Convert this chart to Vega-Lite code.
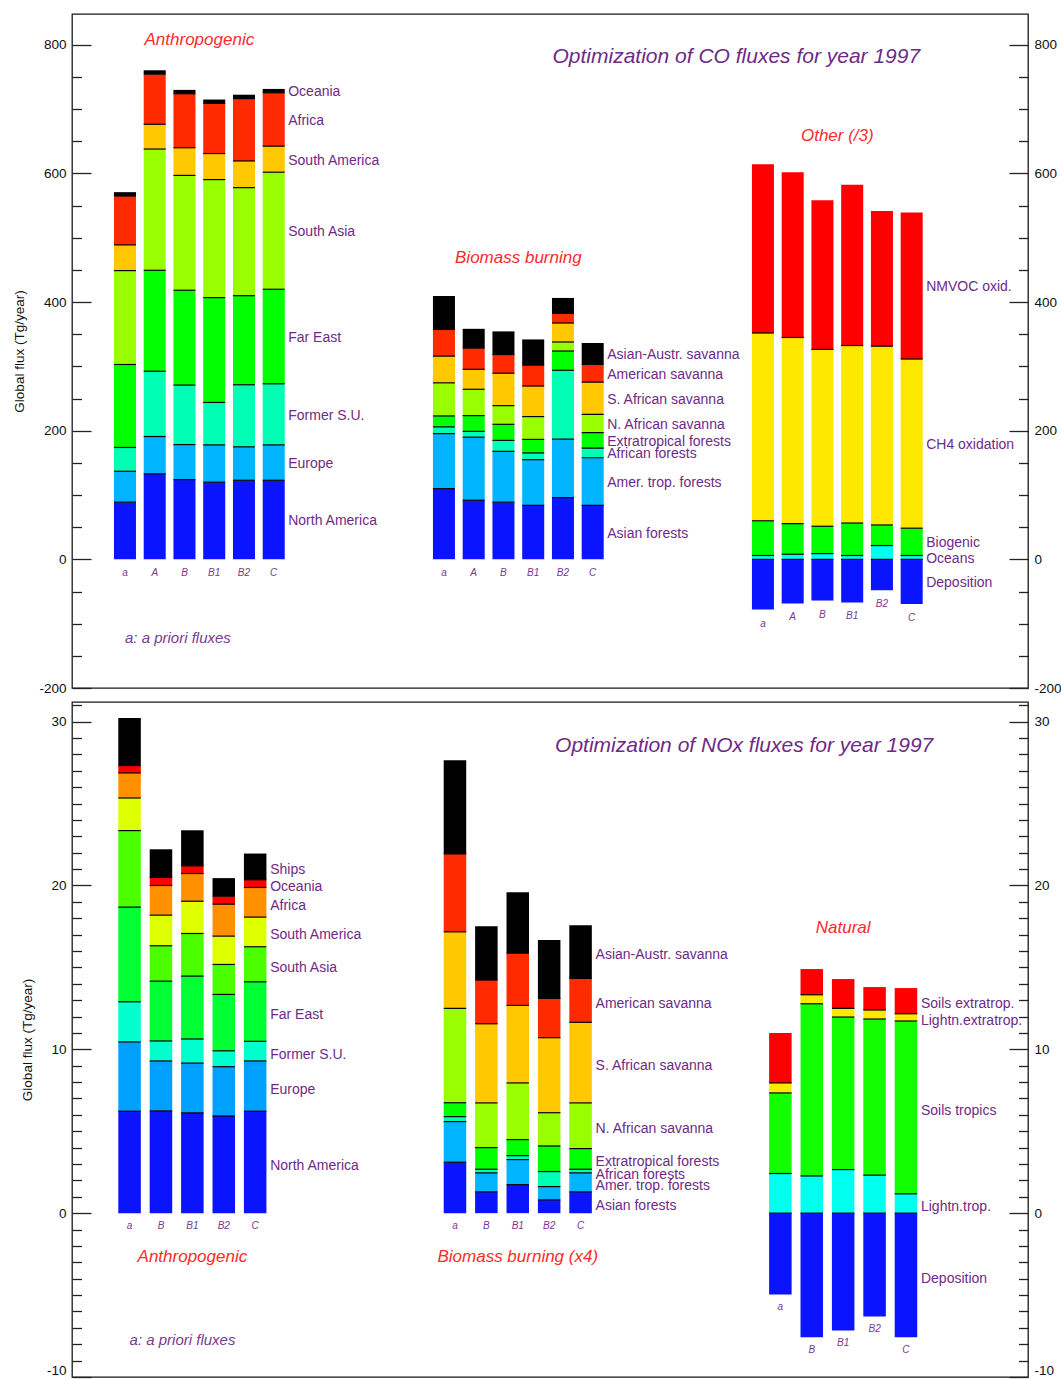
{
"$schema": "https://vega.github.io/schema/vega-lite/v6.json",
"background": "white",
"padding": {"left": 12, "top": 13, "right": 0, "bottom": 0},
"bounds": "flush",
"spacing": 14,
"resolve": {"scale": {"color": "independent", "x": "independent", "xOffset": "independent", "y": "independent"}},
"config": {
  "view": {"stroke": "#1a1a1a", "strokeWidth": 1.3},
  "font": "Liberation Sans",
  "axis": {"grid": false, "domain": false, "labelFont": "Liberation Sans", "labelFontSize": 13.5, "labelColor": "#111", "tickColor": "#222", "tickWidth": 1.3, "titleFont": "Liberation Sans", "titleFontSize": 13.5, "titleFontWeight": "normal", "titleColor": "#111", "labelOverlap": false}
},
"datasets": {
"co": [
{"g":"Anthropogenic","r":"a","s":"North America","v":89},{"g":"Anthropogenic","r":"a","s":"Europe","v":48},{"g":"Anthropogenic","r":"a","s":"Former S.U.","v":37},{"g":"Anthropogenic","r":"a","s":"Far East","v":129},{"g":"Anthropogenic","r":"a","s":"South Asia","v":146},{"g":"Anthropogenic","r":"a","s":"South America","v":40},{"g":"Anthropogenic","r":"a","s":"Africa","v":76},{"g":"Anthropogenic","r":"a","s":"Oceania","v":6},
{"g":"Anthropogenic","r":"A","s":"North America","v":133},{"g":"Anthropogenic","r":"A","s":"Europe","v":58},{"g":"Anthropogenic","r":"A","s":"Former S.U.","v":101.5},{"g":"Anthropogenic","r":"A","s":"Far East","v":157},{"g":"Anthropogenic","r":"A","s":"South Asia","v":188.5},{"g":"Anthropogenic","r":"A","s":"South America","v":38.5},{"g":"Anthropogenic","r":"A","s":"Africa","v":78},{"g":"Anthropogenic","r":"A","s":"Oceania","v":6},
{"g":"Anthropogenic","r":"B","s":"North America","v":124},{"g":"Anthropogenic","r":"B","s":"Europe","v":54.5},{"g":"Anthropogenic","r":"B","s":"Former S.U.","v":92.5},{"g":"Anthropogenic","r":"B","s":"Far East","v":147.5},{"g":"Anthropogenic","r":"B","s":"South Asia","v":178.5},{"g":"Anthropogenic","r":"B","s":"South America","v":43},{"g":"Anthropogenic","r":"B","s":"Africa","v":84},{"g":"Anthropogenic","r":"B","s":"Oceania","v":6},
{"g":"Anthropogenic","r":"B1","s":"North America","v":120},{"g":"Anthropogenic","r":"B1","s":"Europe","v":58},{"g":"Anthropogenic","r":"B1","s":"Former S.U.","v":66},{"g":"Anthropogenic","r":"B1","s":"Far East","v":163},{"g":"Anthropogenic","r":"B1","s":"South Asia","v":183.5},{"g":"Anthropogenic","r":"B1","s":"South America","v":40.5},{"g":"Anthropogenic","r":"B1","s":"Africa","v":78},{"g":"Anthropogenic","r":"B1","s":"Oceania","v":6},
{"g":"Anthropogenic","r":"B2","s":"North America","v":123},{"g":"Anthropogenic","r":"B2","s":"Europe","v":52},{"g":"Anthropogenic","r":"B2","s":"Former S.U.","v":96.5},{"g":"Anthropogenic","r":"B2","s":"Far East","v":138.5},{"g":"Anthropogenic","r":"B2","s":"South Asia","v":168},{"g":"Anthropogenic","r":"B2","s":"South America","v":41.5},{"g":"Anthropogenic","r":"B2","s":"Africa","v":97},{"g":"Anthropogenic","r":"B2","s":"Oceania","v":6},
{"g":"Anthropogenic","r":"C","s":"North America","v":123},{"g":"Anthropogenic","r":"C","s":"Europe","v":55},{"g":"Anthropogenic","r":"C","s":"Former S.U.","v":95},{"g":"Anthropogenic","r":"C","s":"Far East","v":147},{"g":"Anthropogenic","r":"C","s":"South Asia","v":182},{"g":"Anthropogenic","r":"C","s":"South America","v":40.5},{"g":"Anthropogenic","r":"C","s":"Africa","v":83},{"g":"Anthropogenic","r":"C","s":"Oceania","v":6},
{"g":"Biomass burning","r":"a","s":"Asian forests","v":110},{"g":"Biomass burning","r":"a","s":"Amer. trop. forests","v":85.5},{"g":"Biomass burning","r":"a","s":"African forests","v":10.5},{"g":"Biomass burning","r":"a","s":"Extratropical forests","v":17},{"g":"Biomass burning","r":"a","s":"N. African savanna","v":51.5},{"g":"Biomass burning","r":"a","s":"S. African savanna","v":41.5},{"g":"Biomass burning","r":"a","s":"American savanna","v":41.5},{"g":"Biomass burning","r":"a","s":"Asian-Austr. savanna","v":52},
{"g":"Biomass burning","r":"A","s":"Asian forests","v":92},{"g":"Biomass burning","r":"A","s":"Amer. trop. forests","v":98},{"g":"Biomass burning","r":"A","s":"African forests","v":9},{"g":"Biomass burning","r":"A","s":"Extratropical forests","v":24.5},{"g":"Biomass burning","r":"A","s":"N. African savanna","v":41},{"g":"Biomass burning","r":"A","s":"S. African savanna","v":31},{"g":"Biomass burning","r":"A","s":"American savanna","v":33},{"g":"Biomass burning","r":"A","s":"Asian-Austr. savanna","v":30},
{"g":"Biomass burning","r":"B","s":"Asian forests","v":89},{"g":"Biomass burning","r":"B","s":"Amer. trop. forests","v":79},{"g":"Biomass burning","r":"B","s":"African forests","v":17},{"g":"Biomass burning","r":"B","s":"Extratropical forests","v":25},{"g":"Biomass burning","r":"B","s":"N. African savanna","v":29},{"g":"Biomass burning","r":"B","s":"S. African savanna","v":50.5},{"g":"Biomass burning","r":"B","s":"American savanna","v":29},{"g":"Biomass burning","r":"B","s":"Asian-Austr. savanna","v":36},
{"g":"Biomass burning","r":"B1","s":"Asian forests","v":84},{"g":"Biomass burning","r":"B1","s":"Amer. trop. forests","v":71},{"g":"Biomass burning","r":"B1","s":"African forests","v":10.5},{"g":"Biomass burning","r":"B1","s":"Extratropical forests","v":21},{"g":"Biomass burning","r":"B1","s":"N. African savanna","v":35.5},{"g":"Biomass burning","r":"B1","s":"S. African savanna","v":47.5},{"g":"Biomass burning","r":"B1","s":"American savanna","v":32.5},{"g":"Biomass burning","r":"B1","s":"Asian-Austr. savanna","v":40},
{"g":"Biomass burning","r":"B2","s":"Asian forests","v":96},{"g":"Biomass burning","r":"B2","s":"Amer. trop. forests","v":91},{"g":"Biomass burning","r":"B2","s":"African forests","v":107},{"g":"Biomass burning","r":"B2","s":"Extratropical forests","v":30},{"g":"Biomass burning","r":"B2","s":"N. African savanna","v":14},{"g":"Biomass burning","r":"B2","s":"S. African savanna","v":29.5},{"g":"Biomass burning","r":"B2","s":"American savanna","v":15},{"g":"Biomass burning","r":"B2","s":"Asian-Austr. savanna","v":24},
{"g":"Biomass burning","r":"C","s":"Asian forests","v":84},{"g":"Biomass burning","r":"C","s":"Amer. trop. forests","v":74},{"g":"Biomass burning","r":"C","s":"African forests","v":15},{"g":"Biomass burning","r":"C","s":"Extratropical forests","v":24},{"g":"Biomass burning","r":"C","s":"N. African savanna","v":28.5},{"g":"Biomass burning","r":"C","s":"S. African savanna","v":50},{"g":"Biomass burning","r":"C","s":"American savanna","v":27.5},{"g":"Biomass burning","r":"C","s":"Asian-Austr. savanna","v":33.5},
{"g":"Other","r":"a","s":"Oceans","v":6},{"g":"Other","r":"a","s":"Biogenic","v":54},{"g":"Other","r":"a","s":"CH4 oxidation","v":292},{"g":"Other","r":"a","s":"NMVOC oxid.","v":262.5},{"g":"Other","r":"a","s":"Deposition","v":-78},
{"g":"Other","r":"A","s":"Oceans","v":8},{"g":"Other","r":"A","s":"Biogenic","v":47.5},{"g":"Other","r":"A","s":"CH4 oxidation","v":289.5},{"g":"Other","r":"A","s":"NMVOC oxid.","v":257},{"g":"Other","r":"A","s":"Deposition","v":-68.5},
{"g":"Other","r":"B","s":"Oceans","v":9},{"g":"Other","r":"B","s":"Biogenic","v":42.5},{"g":"Other","r":"B","s":"CH4 oxidation","v":275},{"g":"Other","r":"B","s":"NMVOC oxid.","v":232},{"g":"Other","r":"B","s":"Deposition","v":-64},
{"g":"Other","r":"B1","s":"Oceans","v":6},{"g":"Other","r":"B1","s":"Biogenic","v":50.5},{"g":"Other","r":"B1","s":"CH4 oxidation","v":276},{"g":"Other","r":"B1","s":"NMVOC oxid.","v":250},{"g":"Other","r":"B1","s":"Deposition","v":-67},
{"g":"Other","r":"B2","s":"Oceans","v":21.5},{"g":"Other","r":"B2","s":"Biogenic","v":32},{"g":"Other","r":"B2","s":"CH4 oxidation","v":278},{"g":"Other","r":"B2","s":"NMVOC oxid.","v":210},{"g":"Other","r":"B2","s":"Deposition","v":-48},
{"g":"Other","r":"C","s":"Oceans","v":6},{"g":"Other","r":"C","s":"Biogenic","v":42.5},{"g":"Other","r":"C","s":"CH4 oxidation","v":263},{"g":"Other","r":"C","s":"NMVOC oxid.","v":228},{"g":"Other","r":"C","s":"Deposition","v":-69.5}
],
"nox": [
{"g":"Anthropogenic","r":"a","s":"North America","v":6.22},{"g":"Anthropogenic","r":"a","s":"Europe","v":4.23},{"g":"Anthropogenic","r":"a","s":"Former S.U.","v":2.45},{"g":"Anthropogenic","r":"a","s":"Far East","v":5.78},{"g":"Anthropogenic","r":"a","s":"South Asia","v":4.67},{"g":"Anthropogenic","r":"a","s":"South America","v":1.99},{"g":"Anthropogenic","r":"a","s":"Africa","v":1.53},{"g":"Anthropogenic","r":"a","s":"Oceania","v":0.45},{"g":"Anthropogenic","r":"a","s":"Ships","v":2.91},
{"g":"Anthropogenic","r":"B","s":"North America","v":6.24},{"g":"Anthropogenic","r":"B","s":"Europe","v":3.05},{"g":"Anthropogenic","r":"B","s":"Former S.U.","v":1.22},{"g":"Anthropogenic","r":"B","s":"Far East","v":3.65},{"g":"Anthropogenic","r":"B","s":"South Asia","v":2.16},{"g":"Anthropogenic","r":"B","s":"South America","v":1.87},{"g":"Anthropogenic","r":"B","s":"Africa","v":1.81},{"g":"Anthropogenic","r":"B","s":"Oceania","v":0.49},{"g":"Anthropogenic","r":"B","s":"Ships","v":1.72},
{"g":"Anthropogenic","r":"B1","s":"North America","v":6.12},{"g":"Anthropogenic","r":"B1","s":"Europe","v":3.04},{"g":"Anthropogenic","r":"B1","s":"Former S.U.","v":1.47},{"g":"Anthropogenic","r":"B1","s":"Far East","v":3.84},{"g":"Anthropogenic","r":"B1","s":"South Asia","v":2.6},{"g":"Anthropogenic","r":"B1","s":"South America","v":1.97},{"g":"Anthropogenic","r":"B1","s":"Africa","v":1.69},{"g":"Anthropogenic","r":"B1","s":"Oceania","v":0.47},{"g":"Anthropogenic","r":"B1","s":"Ships","v":2.17},
{"g":"Anthropogenic","r":"B2","s":"North America","v":5.93},{"g":"Anthropogenic","r":"B2","s":"Europe","v":3.01},{"g":"Anthropogenic","r":"B2","s":"Former S.U.","v":0.97},{"g":"Anthropogenic","r":"B2","s":"Far East","v":3.44},{"g":"Anthropogenic","r":"B2","s":"South Asia","v":1.83},{"g":"Anthropogenic","r":"B2","s":"South America","v":1.73},{"g":"Anthropogenic","r":"B2","s":"Africa","v":1.95},{"g":"Anthropogenic","r":"B2","s":"Oceania","v":0.49},{"g":"Anthropogenic","r":"B2","s":"Ships","v":1.1},
{"g":"Anthropogenic","r":"C","s":"North America","v":6.22},{"g":"Anthropogenic","r":"C","s":"Europe","v":3.07},{"g":"Anthropogenic","r":"C","s":"Former S.U.","v":1.2},{"g":"Anthropogenic","r":"C","s":"Far East","v":3.63},{"g":"Anthropogenic","r":"C","s":"South Asia","v":2.14},{"g":"Anthropogenic","r":"C","s":"South America","v":1.81},{"g":"Anthropogenic","r":"C","s":"Africa","v":1.81},{"g":"Anthropogenic","r":"C","s":"Oceania","v":0.47},{"g":"Anthropogenic","r":"C","s":"Ships","v":1.6},
{"g":"Biomass burning","r":"a","s":"Asian forests","v":3.11},{"g":"Biomass burning","r":"a","s":"Amer. trop. forests","v":2.48},{"g":"Biomass burning","r":"a","s":"African forests","v":0.3},{"g":"Biomass burning","r":"a","s":"Extratropical forests","v":0.85},{"g":"Biomass burning","r":"a","s":"N. African savanna","v":5.76},{"g":"Biomass burning","r":"a","s":"S. African savanna","v":4.67},{"g":"Biomass burning","r":"a","s":"American savanna","v":4.76},{"g":"Biomass burning","r":"a","s":"Asian-Austr. savanna","v":5.71},
{"g":"Biomass burning","r":"B","s":"Asian forests","v":1.3},{"g":"Biomass burning","r":"B","s":"Amer. trop. forests","v":1.16},{"g":"Biomass burning","r":"B","s":"African forests","v":0.22},{"g":"Biomass burning","r":"B","s":"Extratropical forests","v":1.32},{"g":"Biomass burning","r":"B","s":"N. African savanna","v":2.73},{"g":"Biomass burning","r":"B","s":"S. African savanna","v":4.83},{"g":"Biomass burning","r":"B","s":"American savanna","v":2.67},{"g":"Biomass burning","r":"B","s":"Asian-Austr. savanna","v":3.29},
{"g":"Biomass burning","r":"B1","s":"Asian forests","v":1.74},{"g":"Biomass burning","r":"B1","s":"Amer. trop. forests","v":1.53},{"g":"Biomass burning","r":"B1","s":"African forests","v":0.24},{"g":"Biomass burning","r":"B1","s":"Extratropical forests","v":0.98},{"g":"Biomass burning","r":"B1","s":"N. African savanna","v":3.46},{"g":"Biomass burning","r":"B1","s":"S. African savanna","v":4.73},{"g":"Biomass burning","r":"B1","s":"American savanna","v":3.19},{"g":"Biomass burning","r":"B1","s":"Asian-Austr. savanna","v":3.72},
{"g":"Biomass burning","r":"B2","s":"Asian forests","v":0.81},{"g":"Biomass burning","r":"B2","s":"Amer. trop. forests","v":0.81},{"g":"Biomass burning","r":"B2","s":"African forests","v":0.92},{"g":"Biomass burning","r":"B2","s":"Extratropical forests","v":1.56},{"g":"Biomass burning","r":"B2","s":"N. African savanna","v":2.03},{"g":"Biomass burning","r":"B2","s":"S. African savanna","v":4.58},{"g":"Biomass burning","r":"B2","s":"American savanna","v":2.4},{"g":"Biomass burning","r":"B2","s":"Asian-Austr. savanna","v":3.56},
{"g":"Biomass burning","r":"C","s":"Asian forests","v":1.3},{"g":"Biomass burning","r":"C","s":"Amer. trop. forests","v":1.16},{"g":"Biomass burning","r":"C","s":"African forests","v":0.22},{"g":"Biomass burning","r":"C","s":"Extratropical forests","v":1.26},{"g":"Biomass burning","r":"C","s":"N. African savanna","v":2.79},{"g":"Biomass burning","r":"C","s":"S. African savanna","v":4.92},{"g":"Biomass burning","r":"C","s":"American savanna","v":2.68},{"g":"Biomass burning","r":"C","s":"Asian-Austr. savanna","v":3.25},
{"g":"Natural","r":"a","s":"Lightn.trop.","v":2.42},{"g":"Natural","r":"a","s":"Soils tropics","v":4.92},{"g":"Natural","r":"a","s":"Lightn.extratrop.","v":0.61},{"g":"Natural","r":"a","s":"Soils extratrop.","v":3.04},{"g":"Natural","r":"a","s":"Deposition","v":-4.96},
{"g":"Natural","r":"B","s":"Lightn.trop.","v":2.27},{"g":"Natural","r":"B","s":"Soils tropics","v":10.51},{"g":"Natural","r":"B","s":"Lightn.extratrop.","v":0.55},{"g":"Natural","r":"B","s":"Soils extratrop.","v":1.57},{"g":"Natural","r":"B","s":"Deposition","v":-7.58},
{"g":"Natural","r":"B1","s":"Lightn.trop.","v":2.66},{"g":"Natural","r":"B1","s":"Soils tropics","v":9.31},{"g":"Natural","r":"B1","s":"Lightn.extratrop.","v":0.53},{"g":"Natural","r":"B1","s":"Soils extratrop.","v":1.79},{"g":"Natural","r":"B1","s":"Deposition","v":-7.16},
{"g":"Natural","r":"B2","s":"Lightn.trop.","v":2.32},{"g":"Natural","r":"B2","s":"Soils tropics","v":9.53},{"g":"Natural","r":"B2","s":"Lightn.extratrop.","v":0.55},{"g":"Natural","r":"B2","s":"Soils extratrop.","v":1.4},{"g":"Natural","r":"B2","s":"Deposition","v":-6.3},
{"g":"Natural","r":"C","s":"Lightn.trop.","v":1.18},{"g":"Natural","r":"C","s":"Soils tropics","v":10.55},{"g":"Natural","r":"C","s":"Lightn.extratrop.","v":0.44},{"g":"Natural","r":"C","s":"Soils extratrop.","v":1.57},{"g":"Natural","r":"C","s":"Deposition","v":-7.58}
]
},
"vconcat": [
{
  "width": 956, "height": 674,
  "resolve": {"axis": {"y": "independent"}},
  "layer": [
    {
      "data": {"name": "co"},
      "transform": [
        {"calculate": "indexof(['North America','Europe','Former S.U.','Far East','South Asia','South America','Africa','Oceania','Asian forests','Amer. trop. forests','African forests','Extratropical forests','N. African savanna','S. African savanna','American savanna','Asian-Austr. savanna','Deposition','Oceans','Biogenic','CH4 oxidation','NMVOC oxid.'], datum.s)", "as": "k"},
        {"stack": "v", "groupby": ["g", "r"], "sort": [{"field": "k", "order": "ascending"}], "as": ["y0", "y1"]},
        {"joinaggregate": [{"op": "max", "field": "y1", "as": "top"}], "groupby": ["g", "r"]}
      ],
      "resolve": {"axis": {"y": "independent"}},
      "layer": [
        {
          "mark": {"type": "bar"},
          "encoding": {
            "x": {"field": "g", "type": "nominal", "scale": {"domain": ["Anthropogenic", "Biomass burning", "Other"], "paddingInner": 0.4404, "paddingOuter": 0.2187, "align": 0.273}, "axis": null},
            "xOffset": {"field": "r", "type": "nominal", "scale": {"domain": ["a", "A", "B", "B1", "B2", "C"], "paddingInner": 0.26, "paddingOuter": 0.13}},
            "y": {"field": "y0", "type": "quantitative", "scale": {"domain": [-200, 848], "nice": false, "zero": false},
                  "axis": {"orient": "left", "title": "Global flux (Tg/year)", "titlePadding": 12, "values": [-200,-150,-100,-50,0,50,100,150,200,250,300,350,400,450,500,550,600,650,700,750,800], "labelExpr": "datum.value % 200 === 0 ? '' + datum.value : ''", "tickSize": {"condition": {"test": "datum.value % 200 === 0", "value": -19}, "value": -9.5}, "labelPadding": 25}},
            "y2": {"field": "y1"},
            "color": {"field": "s", "type": "nominal", "legend": null, "scale": {
              "domain": ["North America","Europe","Former S.U.","Far East","South Asia","South America","Africa","Oceania","Asian forests","Amer. trop. forests","African forests","Extratropical forests","N. African savanna","S. African savanna","American savanna","Asian-Austr. savanna","Deposition","Oceans","Biogenic","CH4 oxidation","NMVOC oxid."],
              "range": ["#0A14FF","#00B4FF","#00FFB4","#00FF00","#99FF00","#FFC800","#FF2A00","#000000","#0A14FF","#00B4FF","#00FFB4","#00FF00","#99FF00","#FFC800","#FF2A00","#000000","#0A14FF","#00FFEE","#00FF00","#FFE800","#FF0000"]}}
          }
        },
        {
          "transform": [{"filter": "datum.y1 < datum.top"}, {"calculate": "datum.v < 0 ? datum.y0 : datum.y1", "as": "ly"}],
          "mark": {"type": "tick", "orient": "horizontal", "size": 22, "thickness": 1.2, "color": "#000000", "opacity": 1},
          "encoding": {
            "x": {"field": "g", "type": "nominal", "scale": {"domain": ["Anthropogenic", "Biomass burning", "Other"], "paddingInner": 0.4404, "paddingOuter": 0.2187, "align": 0.273}, "axis": null},
            "xOffset": {"field": "r", "type": "nominal", "scale": {"domain": ["a", "A", "B", "B1", "B2", "C"], "paddingInner": 0.26, "paddingOuter": 0.13}},
            "y": {"field": "ly", "type": "quantitative", "scale": {"domain": [-200, 848], "nice": false, "zero": false}, "axis": null}
          }
        },
        {
          "transform": [{"filter": "datum.r === 'C'"}, {"calculate": "(datum.y0 + datum.y1) / 2", "as": "mid"}],
          "mark": {"type": "text", "align": "left", "baseline": "middle", "dx": 14.5, "dy": 1.5, "fontSize": 14, "color": "#6E2A86"},
          "encoding": {
            "x": {"field": "g", "type": "nominal", "scale": {"domain": ["Anthropogenic", "Biomass burning", "Other"], "paddingInner": 0.4404, "paddingOuter": 0.2187, "align": 0.273}, "axis": null},
            "xOffset": {"field": "r", "type": "nominal", "scale": {"domain": ["a", "A", "B", "B1", "B2", "C"], "paddingInner": 0.26, "paddingOuter": 0.13}},
            "y": {"field": "mid", "type": "quantitative", "scale": {"domain": [-200, 848], "nice": false, "zero": false},
                  "axis": {"orient": "right", "title": null, "values": [-200,-150,-100,-50,0,50,100,150,200,250,300,350,400,450,500,550,600,650,700,750,800], "labelExpr": "datum.value % 200 === 0 ? '' + datum.value : ''", "tickSize": {"condition": {"test": "datum.value % 200 === 0", "value": -19}, "value": -9.5}, "labelPadding": 25}},
            "text": {"field": "s"}
          }
        },
        {
          "transform": [{"calculate": "min(0, datum.v)", "as": "neg"}, {"aggregate": [{"op": "sum", "field": "neg", "as": "base"}], "groupby": ["g", "r"]}],
          "mark": {"type": "text", "align": "center", "baseline": "middle", "dy": 14, "fontSize": 10, "fontStyle": "italic", "color": "#7A3A90"},
          "encoding": {
            "x": {"field": "g", "type": "nominal", "scale": {"domain": ["Anthropogenic", "Biomass burning", "Other"], "paddingInner": 0.4404, "paddingOuter": 0.2187, "align": 0.273}, "axis": null},
            "xOffset": {"field": "r", "type": "nominal", "scale": {"domain": ["a", "A", "B", "B1", "B2", "C"], "paddingInner": 0.26, "paddingOuter": 0.13}},
            "y": {"field": "base", "type": "quantitative", "scale": {"domain": [-200, 848], "nice": false, "zero": false}, "axis": null},
            "text": {"field": "r"}
          }
        }
      ]
    },
    {
      "data": {"values": [{"t": "Anthropogenic", "g": "Anthropogenic", "y": 807}, {"t": "Biomass burning", "g": "Biomass burning", "y": 468}, {"t": "Other (/3)", "g": "Other", "y": 658}]},
      "mark": {"type": "text", "align": "center", "baseline": "middle", "fontSize": 17, "fontStyle": "italic", "color": "#FF2A2A"},
      "encoding": {
        "x": {"field": "g", "type": "nominal", "scale": {"domain": ["Anthropogenic", "Biomass burning", "Other"], "paddingInner": 0.4404, "paddingOuter": 0.2187, "align": 0.273}, "axis": null},
        "y": {"field": "y", "type": "quantitative", "scale": {"domain": [-200, 848], "nice": false, "zero": false}, "axis": null},
        "text": {"field": "t"}
      }
    },
    {
      "data": {"values": [{"t": "Optimization of CO fluxes for year 1997", "g": "Other", "y": 781}]},
      "mark": {"type": "text", "align": "center", "baseline": "middle", "dx": -101, "fontSize": 21, "fontStyle": "italic", "color": "#6E2A86"},
      "encoding": {
        "x": {"field": "g", "type": "nominal", "scale": {"domain": ["Anthropogenic", "Biomass burning", "Other"], "paddingInner": 0.4404, "paddingOuter": 0.2187, "align": 0.273}, "axis": null},
        "y": {"field": "y", "type": "quantitative", "scale": {"domain": [-200, 848], "nice": false, "zero": false}, "axis": null},
        "text": {"field": "t"}
      }
    },
    {
      "data": {"values": [{"t": "a: a priori fluxes", "g": "Anthropogenic", "r": "a", "y": -123}]},
      "mark": {"type": "text", "align": "left", "baseline": "middle", "fontSize": 15, "fontStyle": "italic", "color": "#7A3A90"},
      "encoding": {
        "x": {"field": "g", "type": "nominal", "scale": {"domain": ["Anthropogenic", "Biomass burning", "Other"], "paddingInner": 0.4404, "paddingOuter": 0.2187, "align": 0.273}, "axis": null},
        "xOffset": {"field": "r", "type": "nominal", "scale": {"domain": ["a", "A", "B", "B1", "B2", "C"], "paddingInner": 0.26, "paddingOuter": 0.13}},
        "y": {"field": "y", "type": "quantitative", "scale": {"domain": [-200, 848], "nice": false, "zero": false}, "axis": null},
        "text": {"field": "t"}
      }
    }
  ]
},
{
  "width": 956, "height": 675,
  "resolve": {"axis": {"y": "independent"}},
  "layer": [
    {
      "data": {"name": "nox"},
      "transform": [
        {"calculate": "indexof(['North America','Europe','Former S.U.','Far East','South Asia','South America','Africa','Oceania','Ships','Asian forests','Amer. trop. forests','African forests','Extratropical forests','N. African savanna','S. African savanna','American savanna','Asian-Austr. savanna','Deposition','Lightn.trop.','Soils tropics','Lightn.extratrop.','Soils extratrop.'], datum.s)", "as": "k"},
        {"stack": "v", "groupby": ["g", "r"], "sort": [{"field": "k", "order": "ascending"}], "as": ["y0", "y1"]},
        {"joinaggregate": [{"op": "max", "field": "y1", "as": "top"}], "groupby": ["g", "r"]}
      ],
      "resolve": {"axis": {"y": "independent"}},
      "layer": [
        {
          "mark": {"type": "bar"},
          "encoding": {
            "x": {"field": "g", "type": "nominal", "scale": {"domain": ["Anthropogenic", "Biomass burning", "Natural"], "paddingInner": 0.5175, "paddingOuter": 0.2277, "align": 0.2825}, "axis": null},
            "xOffset": {"field": "r", "type": "nominal", "scale": {"domain": ["a", "B", "B1", "B2", "C"], "paddingInner": 0.283, "paddingOuter": 0.1415}},
            "y": {"field": "y0", "type": "quantitative", "scale": {"domain": [-10, 31.2], "nice": false, "zero": false},
                  "axis": {"orient": "left", "title": "Global flux (Tg/year)", "titlePadding": 12, "values": [-10,-9,-8,-7,-6,-5,-4,-3,-2,-1,0,1,2,3,4,5,6,7,8,9,10,11,12,13,14,15,16,17,18,19,20,21,22,23,24,25,26,27,28,29,30,31], "labelExpr": "datum.value % 10 === 0 ? '' + datum.value : ''", "labelBaseline": {"condition": {"test": "datum.value === -10", "value": "bottom"}, "value": "middle"}, "tickSize": {"condition": {"test": "datum.value % 10 === 0", "value": -19}, "value": -9.5}, "labelPadding": 25}},
            "y2": {"field": "y1"},
            "color": {"field": "s", "type": "nominal", "legend": null, "scale": {
              "domain": ["North America","Europe","Former S.U.","Far East","South Asia","South America","Africa","Oceania","Ships","Asian forests","Amer. trop. forests","African forests","Extratropical forests","N. African savanna","S. African savanna","American savanna","Asian-Austr. savanna","Deposition","Lightn.trop.","Soils tropics","Lightn.extratrop.","Soils extratrop."],
              "range": ["#0A14FF","#00A0FF","#00FFCC","#00FF33","#4CFF00","#DDFF00","#FF9000","#FF0000","#000000","#0A14FF","#00B4FF","#00FFB4","#00FF00","#99FF00","#FFC800","#FF2A00","#000000","#0A14FF","#00FFEE","#11FF00","#FFE800","#FF0000"]}}
          }
        },
        {
          "transform": [{"filter": "datum.y1 < datum.top"}, {"calculate": "datum.v < 0 ? datum.y0 : datum.y1", "as": "ly"}],
          "mark": {"type": "tick", "orient": "horizontal", "size": 22.5, "thickness": 1.2, "color": "#000000", "opacity": 1},
          "encoding": {
            "x": {"field": "g", "type": "nominal", "scale": {"domain": ["Anthropogenic", "Biomass burning", "Natural"], "paddingInner": 0.5175, "paddingOuter": 0.2277, "align": 0.2825}, "axis": null},
            "xOffset": {"field": "r", "type": "nominal", "scale": {"domain": ["a", "B", "B1", "B2", "C"], "paddingInner": 0.283, "paddingOuter": 0.1415}},
            "y": {"field": "ly", "type": "quantitative", "scale": {"domain": [-10, 31.2], "nice": false, "zero": false}, "axis": null}
          }
        },
        {
          "transform": [{"filter": "datum.r === 'C'"}, {"calculate": "(datum.y0 + datum.y1) / 2", "as": "mid"}],
          "mark": {"type": "text", "align": "left", "baseline": "middle", "dx": 15, "dy": 3.5, "fontSize": 14, "color": "#6E2A86"},
          "encoding": {
            "x": {"field": "g", "type": "nominal", "scale": {"domain": ["Anthropogenic", "Biomass burning", "Natural"], "paddingInner": 0.5175, "paddingOuter": 0.2277, "align": 0.2825}, "axis": null},
            "xOffset": {"field": "r", "type": "nominal", "scale": {"domain": ["a", "B", "B1", "B2", "C"], "paddingInner": 0.283, "paddingOuter": 0.1415}},
            "y": {"field": "mid", "type": "quantitative", "scale": {"domain": [-10, 31.2], "nice": false, "zero": false},
                  "axis": {"orient": "right", "title": null, "values": [-10,-9,-8,-7,-6,-5,-4,-3,-2,-1,0,1,2,3,4,5,6,7,8,9,10,11,12,13,14,15,16,17,18,19,20,21,22,23,24,25,26,27,28,29,30,31], "labelExpr": "datum.value % 10 === 0 ? '' + datum.value : ''", "labelBaseline": {"condition": {"test": "datum.value === -10", "value": "bottom"}, "value": "middle"}, "tickSize": {"condition": {"test": "datum.value % 10 === 0", "value": -19}, "value": -9.5}, "labelPadding": 25}},
            "text": {"field": "s"}
          }
        },
        {
          "transform": [{"calculate": "min(0, datum.v)", "as": "neg"}, {"aggregate": [{"op": "sum", "field": "neg", "as": "base"}], "groupby": ["g", "r"]}],
          "mark": {"type": "text", "align": "center", "baseline": "middle", "dy": 12.5, "fontSize": 10, "fontStyle": "italic", "color": "#7A3A90"},
          "encoding": {
            "x": {"field": "g", "type": "nominal", "scale": {"domain": ["Anthropogenic", "Biomass burning", "Natural"], "paddingInner": 0.5175, "paddingOuter": 0.2277, "align": 0.2825}, "axis": null},
            "xOffset": {"field": "r", "type": "nominal", "scale": {"domain": ["a", "B", "B1", "B2", "C"], "paddingInner": 0.283, "paddingOuter": 0.1415}},
            "y": {"field": "base", "type": "quantitative", "scale": {"domain": [-10, 31.2], "nice": false, "zero": false}, "axis": null},
            "text": {"field": "r"}
          }
        }
      ]
    },
    {
      "data": {"values": [{"t": "Anthropogenic", "g": "Anthropogenic", "y": -2.66}, {"t": "Biomass burning (x4)", "g": "Biomass burning", "y": -2.66}, {"t": "Natural", "g": "Natural", "y": 17.4}]},
      "mark": {"type": "text", "align": "center", "baseline": "middle", "fontSize": 17, "fontStyle": "italic", "color": "#FF2A2A"},
      "encoding": {
        "x": {"field": "g", "type": "nominal", "scale": {"domain": ["Anthropogenic", "Biomass burning", "Natural"], "paddingInner": 0.5175, "paddingOuter": 0.2277, "align": 0.2825}, "axis": null},
        "y": {"field": "y", "type": "quantitative", "scale": {"domain": [-10, 31.2], "nice": false, "zero": false}, "axis": null},
        "text": {"field": "t"}
      }
    },
    {
      "data": {"values": [{"t": "Optimization of NOx fluxes for year 1997", "g": "Natural", "y": 28.5}]},
      "mark": {"type": "text", "align": "center", "baseline": "middle", "dx": -99, "fontSize": 21, "fontStyle": "italic", "color": "#6E2A86"},
      "encoding": {
        "x": {"field": "g", "type": "nominal", "scale": {"domain": ["Anthropogenic", "Biomass burning", "Natural"], "paddingInner": 0.5175, "paddingOuter": 0.2277, "align": 0.2825}, "axis": null},
        "y": {"field": "y", "type": "quantitative", "scale": {"domain": [-10, 31.2], "nice": false, "zero": false}, "axis": null},
        "text": {"field": "t"}
      }
    },
    {
      "data": {"values": [{"t": "a: a priori fluxes", "g": "Anthropogenic", "r": "a", "y": -7.73}]},
      "mark": {"type": "text", "align": "left", "baseline": "middle", "fontSize": 15, "fontStyle": "italic", "color": "#7A3A90"},
      "encoding": {
        "x": {"field": "g", "type": "nominal", "scale": {"domain": ["Anthropogenic", "Biomass burning", "Natural"], "paddingInner": 0.5175, "paddingOuter": 0.2277, "align": 0.2825}, "axis": null},
        "xOffset": {"field": "r", "type": "nominal", "scale": {"domain": ["a", "B", "B1", "B2", "C"], "paddingInner": 0.283, "paddingOuter": 0.1415}},
        "y": {"field": "y", "type": "quantitative", "scale": {"domain": [-10, 31.2], "nice": false, "zero": false}, "axis": null},
        "text": {"field": "t"}
      }
    }
  ]
}
]
}
